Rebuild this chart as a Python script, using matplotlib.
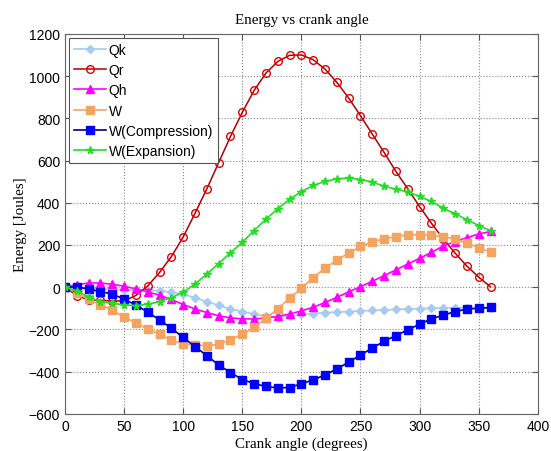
import matplotlib.pyplot as plt

# Crank angle, every 10 degrees over one revolution
theta = list(range(0, 361, 10))

# Energies in Joules
Qk = [0, -2, -5, -8, -10, -12, -12, -13, -17, -24, -33, -50, -68, -86, -103, -115, -127, -138, -143,
      -138, -129, -125, -120, -118, -115, -112, -110, -108, -105, -103, -101, -100, -98, -97, -97, -97, -97]
Qr = [0, -40, -60, -62, -65, -65, -39, 6, 70, 145, 238, 350, 466, 590, 714, 828, 932, 1014, 1069,
      1098, 1100, 1077, 1033, 970, 896, 812, 725, 638, 548, 466, 382, 303, 229, 162, 100, 48, 2]
Qh = [0, 12, 20, 20, 14, 5, -8, -22, -38, -58, -82, -103, -120, -135, -145, -150, -150, -146, -138,
      -127, -112, -95, -72, -48, -22, 3, 28, 55, 82, 110, 137, 165, 195, 216, 235, 252, 264]
W = [0, -28, -57, -82, -110, -140, -170, -198, -222, -252, -268, -272, -278, -270, -248, -223, -190, -148, -102,
     -52, -5, 46, 90, 129, 161, 193, 216, 229, 240, 248, 248, 245, 240, 229, 208, 188, 166]
W_comp = [0, 2, -9, -21, -32, -57, -84, -118, -155, -194, -238, -281, -324, -368, -404, -437, -456, -470, -477,
          -475, -457, -439, -415, -387, -355, -321, -288, -256, -229, -202, -175, -150, -132, -116, -103, -100, -96]
W_exp = [0, -17, -47, -68, -76, -84, -87, -81, -68, -49, -24, 15, 62, 112, 163, 213, 268, 322, 372,
         416, 453, 482, 501, 513, 517, 510, 498, 478, 464, 452, 430, 406, 374, 348, 320, 292, 268]

fig = plt.figure(figsize=(5.51, 4.52), dpi=100)
ax = fig.add_axes([0.118, 0.082, 0.858, 0.841])

ax.plot(theta, Qk, '-', color='#A6CAF0', marker='D', markersize=4.5, lw=1.2, label='Qk')
ax.plot(theta, Qr, '-', color='#B00000', marker='o', markersize=5.5, mfc='none', mec='#E00000',
        mew=1.0, lw=1.1, label='Qr')
ax.plot(theta, Qh, '-', color='#FF00FF', marker='^', markersize=6, lw=1.2, label='Qh')
ax.plot(theta, W, '-', color='#F4A460', marker='s', markersize=5.5, lw=1.2, label='W')
ax.plot(theta, W_comp, '-', color='#000080', marker='s', markersize=6, mfc='#0000FF', mec='#0000FF',
        lw=1.2, label='W(Compression)')
ax.plot(theta, W_exp, '-', color='#22DD22', marker='*', markersize=5.5, mfc='#22DD22', mec='#22DD22',
        lw=1.2, label='W(Expansion)')

ax.set_xlim(0, 400)
ax.set_ylim(-600, 1200)
ax.set_xticks(range(0, 401, 50))
ax.set_yticks(range(-600, 1201, 200))
ax.grid(True, linestyle=':', color='#888888', linewidth=0.8)
ax.tick_params(direction='in', top=True, right=True, labelsize=10, length=4, color='#555555')
for lab in ax.get_xticklabels() + ax.get_yticklabels():
    lab.set_family('Liberation Sans')
for sp in ax.spines.values():
    sp.set_color('#666666')

ax.set_title('Energy vs crank angle', family='Liberation Serif', fontsize=10.8, pad=8)
ax.set_xlabel('Crank angle (degrees)', family='Liberation Serif', fontsize=10.8, labelpad=3)
ax.set_ylabel('Energy [Joules]', family='Liberation Serif', fontsize=10.8, labelpad=1)

leg = ax.legend(loc='upper left', prop={'family': 'Liberation Sans', 'size': 10}, fancybox=False,
                edgecolor='#555555', framealpha=1, handlelength=2.3, handletextpad=0.2,
                labelspacing=0.45, borderpad=0.35, borderaxespad=0.3)
leg.get_frame().set_linewidth(0.8)

fig.savefig('out.png', dpi=100)
